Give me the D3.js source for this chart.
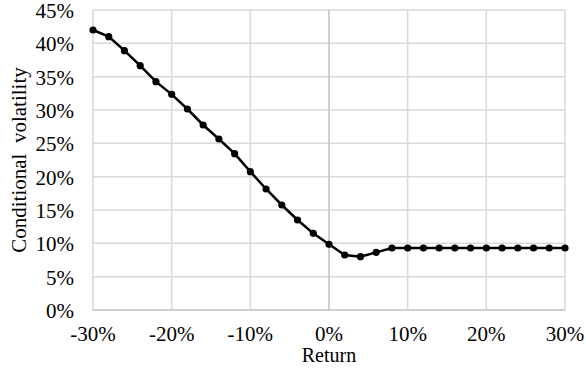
<!DOCTYPE html>
<html><head><meta charset="utf-8">
<script src="https://cdn.jsdelivr.net/npm/d3@7"></script>
<style>body{margin:0;background:#fff}svg{display:block}</style>
</head><body>
<script>
const returns = [-30,-28,-26,-24,-22,-20,-18,-16,-14,-12,-10,-8,-6,-4,-2,0,2,4,6,8,10,12,14,16,18,20,22,24,26,28,30];
const volatility = [42.0,41.0,38.9,36.65,34.25,32.35,30.15,27.75,25.65,23.45,20.75,18.15,15.75,13.5,11.5,9.85,8.25,8.0,8.65,9.3,9.3,9.3,9.3,9.3,9.3,9.3,9.3,9.3,9.3,9.3,9.3];
const xTicks = [-30,-20,-10,0,10,20,30];
const yTicks = [0,5,10,15,20,25,30,35,40,45];

const W = 586, H = 369;
const m = {left:93, right:21, top:10, bottom:59};
const FONT = '"Liberation Serif"';
const FS = "21px";
const svg = d3.select("body").append("svg").attr("width",W).attr("height",H);
const x = d3.scaleLinear().domain([-30,30]).range([m.left, W-m.right]);
const y = d3.scaleLinear().domain([0,45]).range([H-m.bottom, m.top]);

// gridlines
svg.append("g").selectAll("line").data(yTicks).join("line")
  .attr("x1",x(-30)).attr("x2",x(30)).attr("y1",d=>y(d)).attr("y2",d=>y(d))
  .attr("stroke",d=>d===0?"#bfbfbf":"#d9d9d9").attr("stroke-width",1.5);
svg.append("g").selectAll("line").data(xTicks).join("line")
  .attr("x1",d=>x(d)).attr("x2",d=>x(d)).attr("y1",y(0)).attr("y2",y(45))
  .attr("stroke",d=>d===0?"#bfbfbf":"#d9d9d9").attr("stroke-width",1.5);

// tick labels
svg.append("g").selectAll("text").data(xTicks).join("text")
  .attr("x",d=>x(d)).attr("y",y(0)+31).attr("text-anchor","middle")
  .style("font-family",FONT).style("font-size",FS).style("fill","#000")
  .text(d=>d+"%");
svg.append("g").selectAll("text").data(yTicks).join("text")
  .attr("x",x(-30)-19).attr("y",d=>y(d)+8).attr("text-anchor","end")
  .style("font-family",FONT).style("font-size",FS).style("fill","#000")
  .text(d=>d+"%");

// titles
svg.append("text").attr("x",x(0)).attr("y",362).attr("text-anchor","middle")
  .style("font-family",FONT).style("font-size","20px").text("Return");
svg.append("text").attr("transform",`translate(26,${(y(0)+y(45))/2}) rotate(-90)`)
  .attr("text-anchor","middle").style("font-family",FONT).style("font-size",FS)
  .style("white-space","pre").text("Conditional  volatility");

// line + markers
const data = returns.map((r,i)=>({r, v:volatility[i]}));
svg.append("path").datum(data)
  .attr("d",d3.line().x(d=>x(d.r)).y(d=>y(d.v)))
  .attr("fill","none").attr("stroke","#000").attr("stroke-width",2.5);
svg.append("g").selectAll("circle").data(data).join("circle")
  .attr("cx",d=>x(d.r)).attr("cy",d=>y(d.v)).attr("r",3.6).attr("fill","#000");
</script>
</body></html>
